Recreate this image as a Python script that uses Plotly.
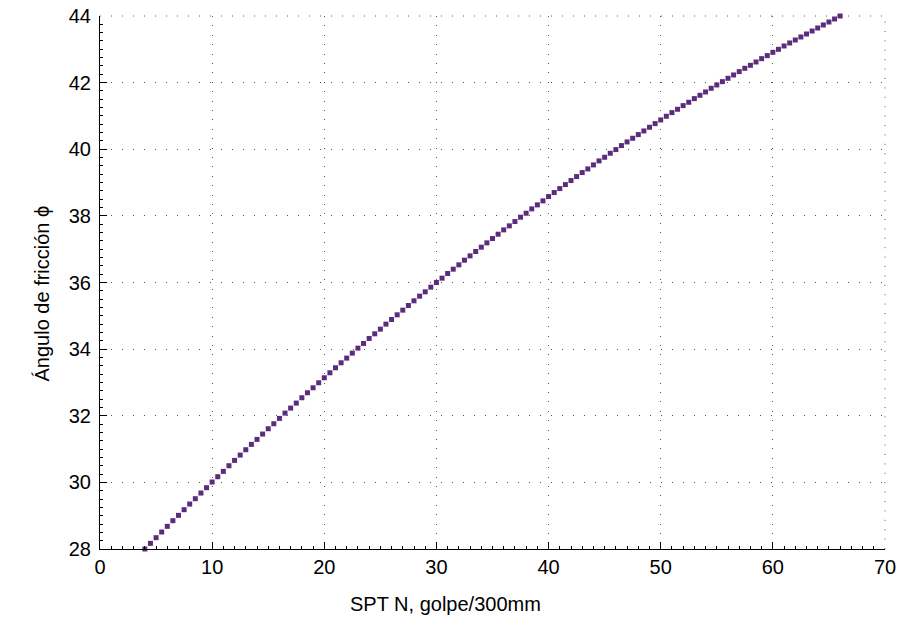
import plotly.graph_objects as go

# SPT N values (golpe/300mm)
spt_n = [4 + 0.5 * i for i in range(125)]

# Friction angle (degrees)
phi = [
    28.00, 28.17, 28.34, 28.51, 28.68, 28.85, 29.01, 29.18, 29.35, 29.51,
    29.68, 29.84, 30.01, 30.17, 30.33, 30.50, 30.66, 30.82, 30.98, 31.14,
    31.29, 31.45, 31.61, 31.76, 31.92, 32.08, 32.23, 32.38, 32.54, 32.69,
    32.84, 32.99, 33.14, 33.29, 33.44, 33.59, 33.73, 33.88, 34.03, 34.17,
    34.32, 34.46, 34.60, 34.75, 34.89, 35.03, 35.17, 35.31, 35.45, 35.59,
    35.72, 35.86, 36.00, 36.13, 36.27, 36.40, 36.53, 36.67, 36.80, 36.93,
    37.06, 37.19, 37.32, 37.45, 37.58, 37.70, 37.83, 37.96, 38.08, 38.21,
    38.33, 38.45, 38.58, 38.70, 38.82, 38.94, 39.06, 39.18, 39.30, 39.41,
    39.53, 39.65, 39.76, 39.88, 39.99, 40.11, 40.22, 40.33, 40.44, 40.55,
    40.66, 40.77, 40.88, 40.99, 41.10, 41.20, 41.31, 41.41, 41.52, 41.62,
    41.72, 41.83, 41.93, 42.03, 42.13, 42.23, 42.33, 42.43, 42.52, 42.62,
    42.72, 42.81, 42.91, 43.00, 43.10, 43.19, 43.28, 43.37, 43.46, 43.55,
    43.64, 43.73, 43.82, 43.91, 44.00,
]

x_title = "SPT N, golpe/300mm"
y_title = "Ángulo de fricción ϕ"

W, H = 898, 619
L, R, T, B = 100, 13, 16, 70
FONT = "Liberation Sans, Arial, Helvetica, sans-serif"
GRID = "#555555"

fig = go.Figure()
fig.add_trace(go.Scatter(
    x=spt_n, y=phi, mode="markers",
    marker=dict(symbol="square", size=5, color="#5b2c7c", line=dict(width=0)),
    showlegend=False, cliponaxis=False,
))

axis_common = dict(
    showline=True, linecolor="black", linewidth=1, mirror=False,
    ticks="inside", ticklen=7, tickwidth=1, tickcolor="black",
    showgrid=True, gridcolor=GRID, gridwidth=1,
    zeroline=False, automargin=False,
    tickfont=dict(family=FONT, size=20, color="black"),
)

fig.update_xaxes(
    range=[0, 70], dtick=10, tick0=0,
    griddash="1px,8.4px",
    minor=dict(dtick=1, ticks="inside", ticklen=3, tickcolor="black", showgrid=False),
    ticklabelstandoff=0,
    **axis_common,
)
fig.update_yaxes(
    range=[28, 44], dtick=2, tick0=28,
    griddash="1px,10px",
    minor=dict(dtick=0.25, ticks="inside", ticklen=3, tickcolor="black", showgrid=False),
    ticklabelstandoff=4,
    **axis_common,
)

# dotted grid lines on the top and right edges (plotly hides edge gridlines)
fig.add_shape(type="line", xref="paper", yref="paper", x0=0, x1=1, y0=1, y1=1,
              line=dict(color=GRID, width=1, dash="1px,10px"), layer="below")
fig.add_shape(type="line", xref="paper", yref="paper", x0=1, x1=1, y0=0, y1=1,
              line=dict(color=GRID, width=1, dash="1px,8.4px"), layer="below")

fig.add_annotation(
    text=x_title, xref="paper", yref="paper",
    x=(445 - L) / (W - L - R), y=-(604 - (H - B)) / (H - T - B),
    xanchor="center", yanchor="middle", showarrow=False,
    font=dict(family=FONT, size=20, color="black"),
)
fig.add_annotation(
    text=y_title, xref="paper", yref="paper",
    x=-(L - 41.5) / (W - L - R), y=1 - (294 - T) / (H - T - B),
    xanchor="center", yanchor="middle", textangle=-90, showarrow=False,
    font=dict(family=FONT, size=20, color="black"),
)

fig.update_layout(
    width=W, height=H,
    margin=dict(l=L, r=R, t=T, b=B),
    paper_bgcolor="white", plot_bgcolor="white",
)

fig.write_html("out.html")
